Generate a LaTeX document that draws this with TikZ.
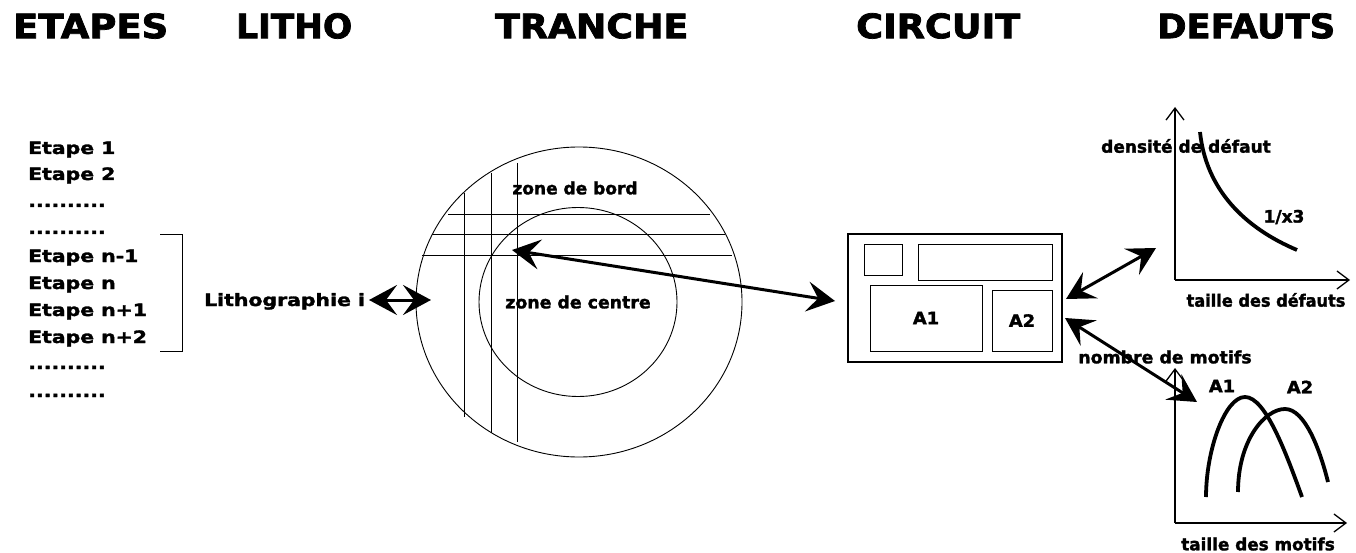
\documentclass[tikz,border=0pt]{standalone}
\usepackage{fontspec}
\setmainfont{DejaVu Sans}[BoldFeatures={FakeBold=1.8}]
\newfontfamily\ttlfont{DejaVu Sans}[UprightFeatures={FakeBold=2.2},BoldFeatures={FakeBold=2.2}]
\usetikzlibrary{arrows.meta}
\newcommand\sx[2]{\scalebox{#1}[1]{#2}}
\newcommand\ttl[2]{\resizebox{#1}{25pt}{\ttlfont\bfseries #2}}
\begin{document}
\begin{tikzpicture}[x=1pt,y=-1pt,
  thin line/.style={line width=0.9pt},
  big arrow/.style={line width=3pt,{Stealth[length=28pt,width=30pt,inset=11pt]}-{Stealth[length=28pt,width=30pt,inset=11pt]}},
  axis/.style={line width=1.3pt,-{Straight Barb[length=12pt,width=18pt]}},
  curve/.style={line width=3.8pt},
  title/.style={anchor=north west,inner sep=0pt},
  lst/.style={anchor=base west,inner sep=0pt,font=\fontsize{17}{20}\selectfont\bfseries},
  lbl/.style={inner sep=0pt,font=\fontsize{17}{20}\selectfont\bfseries},
  box/.style={draw,thin line,inner sep=0pt}]
\useasboundingbox (0,0) rectangle (1356,553);
% titles
\node[title] (tEt) at (13,13) {\ttl{155pt}{ETAPES}};
\node[title] (tLi) at (236,13) {\ttl{116pt}{LITHO}};
\node[title] (tTr) at (495,13) {\ttl{193pt}{TRANCHE}};
\node[title] (tCi) at (856,13) {\ttl{164pt}{CIRCUIT}};
\node[title] (tDe) at (1157,13) {\ttl{178pt}{DEFAUTS}};
% step list
\node[lst] (e1) at (28,154) {\sx{1.2}{Etape 1}};
\node[lst] (e2) at (28,180) {\sx{1.2}{Etape 2}};
\node[lst] (d1) at (28,207) {\sx{1.2}{..........}};
\node[lst] (d2) at (28,234) {\sx{1.2}{..........}};
\node[lst] (e3) at (28,262) {\sx{1.2}{Etape n-1}};
\node[lst] (e4) at (28,289) {\sx{1.2}{Etape n}};
\node[lst] (e5) at (28,316) {\sx{1.2}{Etape n+1}};
\node[lst] (e6) at (28,343) {\sx{1.2}{Etape n+2}};
\node[lst] (d3) at (28,369) {\sx{1.2}{..........}};
\node[lst] (d4) at (28,397) {\sx{1.2}{..........}};
% bracket
\draw[thin line] (160,234) -- (182,234) -- (182,351) -- (160,351);
% litho
\node[lst] (lith) at (204,306) {\sx{1.2}{Lithographie i}};
\coordinate (la) at (369,300);
\coordinate (lb) at (431,300);
\draw[big arrow] (la) -- (lb);
% wafer
\draw[thin line] (579,302) ellipse [x radius=163pt, y radius=155pt];
\draw[thin line] (578,302) ellipse [x radius=99pt, y radius=94.5pt];
\draw[thin line] (448,214) -- (710,214);
\draw[thin line] (432,234) -- (725,234);
\draw[thin line] (422,255) -- (732,255);
\draw[thin line] (464,193) -- (464,417);
\draw[thin line] (491,173) -- (491,433);
\draw[thin line] (517,163) -- (517,442);
\node[lbl] (zb) at (575,188) {\sx{1.0}{zone de bord}};
\node[lbl] (zc) at (578,302) {\sx{1.02}{zone de centre}};
\coordinate (wa) at (512,250);
\coordinate (wb) at (835,301);
\draw[big arrow] (wa) -- (wb);
% circuit
\node[box,line width=1.3pt,minimum width=214pt,minimum height=128pt] (circ) at (955,298) {};
\node[box,minimum width=38pt,minimum height=31pt] (c1) at (883,259.5) {};
\node[box,minimum width=134pt,minimum height=36pt] (c2) at (985,262) {};
\node[box,minimum width=112pt,minimum height=66pt] (ca1) at (926,318) {};
\node[box,minimum width=60pt,minimum height=61pt] (ca2) at (1022,320.5) {};
\node[lbl] at (ca1) {\sx{1.05}{A1}};
\node[lbl] at (ca2) {\sx{1.05}{A2}};
% arrows to graphs
\coordinate (r1a) at (1066,299);
\coordinate (r1b) at (1156,248);
\coordinate (r2a) at (1065,318);
\coordinate (r2b) at (1197,402);
\draw[big arrow] (r1a) -- (r1b);
\draw[big arrow] (r2a) -- (r2b);
% graph 1
\coordinate (o1) at (1175,280);
\coordinate (y1) at (1175,107);
\coordinate (x1) at (1350,280);
\draw[axis] (o1) -- (y1);
\draw[axis] (o1) -- (x1);
\node[lbl] (g1y) at (1186,146) {\sx{1.0}{densité de défaut}};
\node[lbl] (g1x) at (1266,300) {\sx{0.95}{taille des défauts}};
\draw[curve] (1200,132) .. controls (1206,190) and (1245,228) .. (1297,250);
\node[lbl] (g1c) at (1284,217) {\sx{1.0}{1/x3}};
% graph 2
\coordinate (o2) at (1175,523);
\coordinate (y2) at (1175,368);
\coordinate (x2) at (1347,523);
\draw[axis] (o2) -- (y2);
\draw[axis] (o2) -- (x2);
\node[lbl] (g2y) at (1165,357) {\sx{1.02}{nombre de motifs}};
\node[lbl] (g2x) at (1258,544) {\sx{0.99}{taille des motifs}};
\draw[curve] (1206,497) .. controls (1206,450) and (1225,397) .. (1245,397) .. controls (1265,397) and (1285,450) .. (1302,497);
\draw[curve] (1238,492) .. controls (1238,440) and (1265,409) .. (1285,409) .. controls (1305,409) and (1320,450) .. (1328,482);
\node[lbl] (ga1) at (1222,386) {\sx{1.05}{A1}};
\node[lbl] (ga2) at (1300,387) {\sx{1.05}{A2}};
\end{tikzpicture}
\end{document}
